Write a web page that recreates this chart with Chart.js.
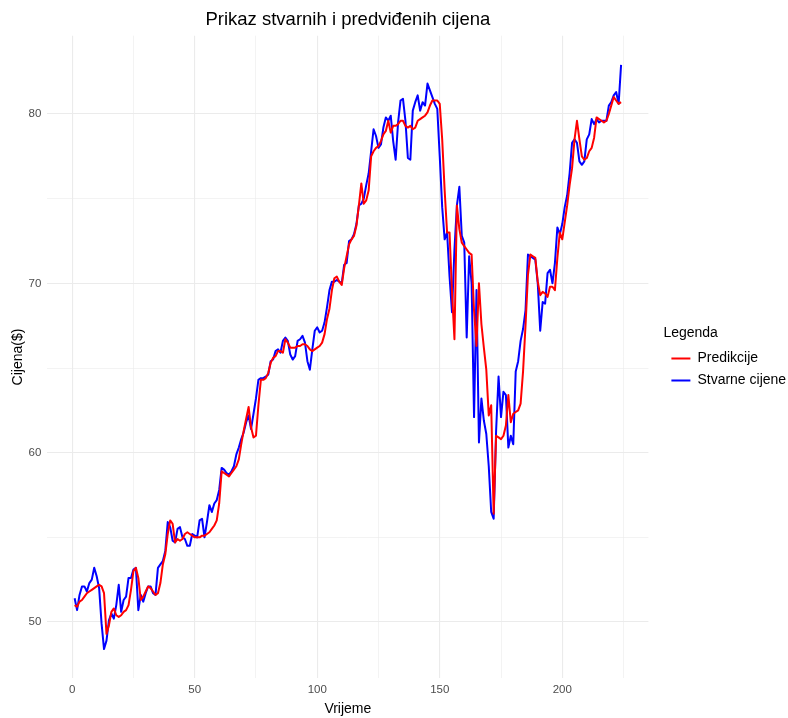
<!DOCTYPE html>
<html>
<head>
<meta charset="utf-8">
<title>Prikaz stvarnih i predviđenih cijena</title>
<script src="https://cdn.jsdelivr.net/npm/chart.js@4"></script>
<style>
  html, body { margin: 0; padding: 0; background: #ffffff; }
  canvas { display: block; }
</style>
</head>
<body>
<canvas id="chart" width="788" height="718"></canvas>
<script>
// Vremenski indeks (dani 1..224)
const vrijeme = Array.from({ length: 224 }, (_, i) => i + 1);

// Stvarne cijene (plava linija), ocitano sa slike
const stvarneCijene = [
  51.4, 50.7, 51.6, 52.1, 52.1, 51.8, 52.3, 52.5, 53.2, 52.7,
  52.0, 49.9, 48.4, 48.9, 50.1, 50.5, 50.2, 51.0, 52.2, 50.6,
  51.3, 51.5, 52.6, 52.6, 53.1, 53.2, 50.7, 51.6, 51.2, 51.7,
  52.1, 52.1, 51.7, 51.6, 53.2, 53.4, 53.6, 54.2, 55.9, 55.6,
  54.8, 54.7, 55.5, 55.6, 55.0, 54.9, 54.5, 54.5, 55.2, 55.1,
  55.0, 56.0, 56.1, 55.0, 55.9, 56.9, 56.5, 57.0, 57.2, 57.8,
  59.1, 59.0, 58.8, 58.7, 58.9, 59.2, 59.9, 60.3, 60.8, 61.2,
  61.8, 62.2, 61.4, 62.3, 63.2, 64.3, 64.4, 64.4, 64.5, 64.6,
  65.4, 65.5, 66.0, 66.1, 65.9, 66.6, 66.8, 66.6, 65.8, 65.5,
  65.7, 66.6, 66.7, 66.9, 66.5, 65.4, 64.9, 66.1, 67.2, 67.4,
  67.1, 67.2, 67.7, 68.6, 69.6, 70.1, 70.1, 70.2, 70.1, 70.0,
  71.1, 71.2, 72.5, 72.6, 72.9, 73.5, 74.6, 74.7, 75.0, 75.8,
  76.5, 77.8, 79.1, 78.7, 78.0, 78.2, 79.2, 79.8, 79.6, 79.9,
  78.4, 77.3, 79.5, 80.8, 80.9, 79.6, 77.4, 77.3, 80.2, 80.7,
  81.1, 80.2, 80.7, 80.5, 81.8, 81.4, 81.0, 80.6, 80.3, 77.5,
  74.5, 72.6, 73.0, 70.4, 68.3, 72.0, 74.6, 75.7, 72.8, 72.4,
  66.8, 71.6, 70.0, 62.1, 69.6, 60.6, 63.2, 61.9, 61.1, 59.2,
  56.5, 56.1, 61.3, 64.5, 62.1, 63.6, 63.4, 60.3, 61.0, 60.5,
  64.8, 65.4, 66.6, 67.3, 68.4, 71.7, 71.6, 71.5, 71.4, 70.0,
  67.2, 68.9, 68.8, 70.6, 70.8, 70.0, 71.2, 73.3, 72.9, 73.5,
  74.5, 75.2, 76.5, 78.3, 78.5, 78.3, 77.2, 77.0, 77.2, 78.5,
  78.8, 79.7, 79.4, 79.7, 79.5, 79.6, 79.6, 79.6, 80.5, 80.7,
  81.1, 81.3, 80.6, 82.9
];

// Predikcije modela (crvena linija)
const predikcije = [
  51.0, 50.9, 51.2, 51.3, 51.5, 51.7, 51.8, 51.9, 52.0, 52.1,
  52.2, 52.1, 51.7, 49.3, 49.8, 50.6, 50.8, 50.4, 50.3, 50.4,
  50.6, 50.7, 51.0, 51.9, 53.0, 53.2, 52.6, 51.3, 51.5, 51.8,
  52.1, 52.0, 51.8, 51.6, 51.7, 52.3, 53.4, 54.0, 55.2, 56.0,
  55.8, 54.7, 54.9, 54.8, 54.9, 55.2, 55.3, 55.2, 55.1, 55.0,
  55.0, 55.0, 55.1, 55.1, 55.2, 55.3, 55.5, 55.7, 56.0, 57.0,
  58.9, 58.8, 58.7, 58.6, 58.8, 59.0, 59.2, 59.6, 60.5, 61.3,
  62.0, 62.7, 61.5, 60.9, 61.0, 62.8, 64.3, 64.3, 64.4, 64.7,
  65.3, 65.6, 65.7, 66.0, 66.0, 65.9, 66.7, 66.5, 66.2, 66.2,
  66.2, 66.3, 66.3, 66.4, 66.4, 66.3, 66.1, 66.0, 66.1, 66.2,
  66.3, 66.5, 67.0, 67.9, 68.5, 69.6, 70.3, 70.4, 70.1, 69.9,
  70.9, 71.6, 72.3, 72.6, 72.8, 73.4, 74.6, 75.9, 74.7, 74.9,
  75.5, 77.5, 77.8, 78.0, 78.1, 78.4, 78.8, 79.0, 79.6, 78.9,
  79.3, 79.3, 79.4, 79.6, 79.6, 79.3, 79.2, 79.3, 79.1, 79.2,
  79.6, 79.7, 79.8, 79.9, 80.1, 80.5, 80.8, 80.8, 80.8, 80.6,
  78.5, 75.5, 73.0, 73.0, 69.5, 66.7, 74.6, 73.2, 72.4, 72.2,
  72.0, 71.8, 71.7, 68.4, 66.3, 70.0, 67.6, 66.2, 64.9, 62.2,
  62.8, 56.4, 61.0, 60.9, 60.8, 61.0, 61.6, 63.4, 61.8, 62.3,
  62.4, 62.5, 62.9, 64.8, 67.5, 70.5, 71.7, 71.6, 71.5, 70.1,
  69.3, 69.5, 69.4, 69.2, 69.8, 69.8, 69.6, 71.5, 73.0, 72.6,
  73.6, 74.6, 75.8, 76.8, 78.5, 79.6, 78.5, 77.5, 77.3, 77.4,
  77.8, 78.0, 78.6, 79.8, 79.7, 79.6, 79.5, 79.6, 80.0, 80.5,
  81.0, 80.8, 80.6, 80.7
];

// Oznake na osima
const xOznake = [0, 50, 100, 150, 200];
const yOznake = [50, 60, 70, 80];

const font = '"Liberation Sans", Arial, sans-serif';
const gridColor = '#ebebeb';

const toPoints = (values) => values.map((v, i) => ({ x: vrijeme[i], y: v }));

const ctx = document.getElementById('chart').getContext('2d');
new Chart(ctx, {
  type: 'line',
  data: {
    datasets: [{
      label: 'Predikcije',
      data: toPoints(predikcije),
      borderColor: '#ff0000',
      backgroundColor: '#ff0000',
      borderWidth: 2,
      pointRadius: 0,
      borderJoinStyle: 'round',
      tension: 0
    }, {
      label: 'Stvarne cijene',
      data: toPoints(stvarneCijene),
      borderColor: '#0000ff',
      backgroundColor: '#0000ff',
      borderWidth: 2,
      pointRadius: 0,
      borderJoinStyle: 'round',
      tension: 0
    }]
  },
  options: {
    responsive: false,
    animation: false,
    devicePixelRatio: 1,
    layout: { padding: 0 },
    scales: {
      x: {
        type: 'linear',
        min: -10.15,
        max: 235.15,
        border: { display: false },
        grid: {
          color: gridColor,
          drawTicks: false,
          lineWidth: (c) => (xOznake.includes(c.tick.value) ? 1.1 : 0.6)
        },
        ticks: {
          stepSize: 25,
          includeBounds: false,
          autoSkip: false,
          maxRotation: 0,
          padding: 5,
          color: '#4d4d4d',
          font: { family: font, size: 11.5 },
          callback: (value) => (xOznake.includes(value) ? String(value) : '')
        },
        title: {
          display: true,
          text: 'Vrijeme',
          color: '#000000',
          font: { family: font, size: 14 },
          padding: { top: 0, bottom: 0 }
        },
        afterFit: (scale) => { scale.height = 39.7; }
      },
      y: {
        type: 'linear',
        min: 46.675,
        max: 84.625,
        border: { display: false },
        grid: {
          color: gridColor,
          drawTicks: false,
          lineWidth: (c) => (yOznake.includes(c.tick.value) ? 1.1 : 0.6)
        },
        ticks: {
          stepSize: 5,
          includeBounds: false,
          autoSkip: false,
          padding: 6,
          color: '#4d4d4d',
          font: { family: font, size: 11.5 },
          callback: (value) => (yOznake.includes(value) ? String(value) : '')
        },
        title: {
          display: true,
          text: 'Cijena($)',
          color: '#000000',
          font: { family: font, size: 14 },
          padding: { top: 10, bottom: 0 }
        },
        afterFit: (scale) => { scale.width = 47.3; }
      },
      // prazan razmak izmedju grafa i legende
      razmak: {
        type: 'linear',
        position: 'right',
        display: true,
        border: { display: false },
        grid: { display: false },
        ticks: { display: false },
        afterFit: (scale) => { scale.width = 15; }
      }
    },
    plugins: {
      title: {
        display: true,
        text: 'Prikaz stvarnih i predviđenih cijena',
        fullSize: false,
        color: '#000000',
        font: { family: font, size: 18.5, weight: 'normal' },
        padding: { top: 9, bottom: 4.5 }
      },
      legend: {
        position: 'right',
        maxWidth: 124.6,
        title: {
          display: true,
          text: 'Legenda',
          position: 'start',
          color: '#000000',
          font: { family: font, size: 14 },
          padding: { top: 4, bottom: 0 }
        },
        labels: {
          usePointStyle: true,
          pointStyle: 'line',
          pointStyleWidth: 19,
          padding: 8,
          color: '#000000',
          font: { family: font, size: 14 }
        }
      },
      tooltip: { enabled: false }
    }
  }
});
</script>
</body>
</html>
